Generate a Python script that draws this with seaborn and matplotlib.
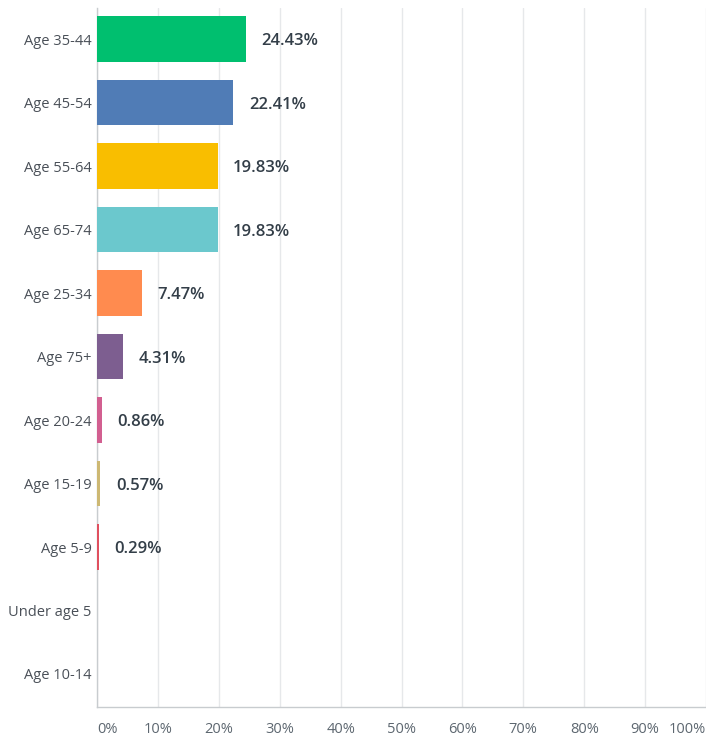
import matplotlib
matplotlib.use("Agg")
import matplotlib.pyplot as plt
import seaborn as sns
import pandas as pd

# Survey answers (percent of respondents)
categories = ["Age 35-44", "Age 45-54", "Age 55-64", "Age 65-74", "Age 25-34",
              "Age 75+", "Age 20-24", "Age 15-19", "Age 5-9", "Under age 5", "Age 10-14"]
values = [24.43, 22.41, 19.83, 19.83, 7.47, 4.31, 0.86, 0.57, 0.29, 0.0, 0.0]
colors = ["#00BF6F", "#507CB6", "#F9BE00", "#6BC8CD", "#FF8B4F", "#7D5E90",
          "#D25F90", "#CDB873", "#E0505F", "#A0A0A0", "#A0A0A0"]
xticks = list(range(0, 101, 10))

sns.set_theme(style="white")
plt.rcParams["font.family"] = ["Open Sans", "DejaVu Sans"]

df = pd.DataFrame({"answer": categories, "pct": values})

fig = plt.figure(figsize=(7.06, 7.40), dpi=100)
ax = fig.add_axes([0.1374, 0.0446, 0.8626, 0.9446])

sns.barplot(data=df, x="pct", y="answer", hue="answer", palette=colors,
            legend=False, width=0.72, ax=ax, saturation=1, zorder=3, linewidth=0)

ax.set_xlim(0, 100)
ax.set_ylim(10.52, -0.49)
ax.set_xticks(xticks)
ax.set_xticklabels([f"{t}%" for t in xticks])
ax.set_xlabel("")
ax.set_ylabel("")
ax.grid(axis="x", color="#E6E8EA", linewidth=1, zorder=0)

for s in ["top", "right"]:
    ax.spines[s].set_visible(False)
for s in ["left", "bottom"]:
    ax.spines[s].set_color("#C8CCCF")
    ax.spines[s].set_linewidth(1)

ax.tick_params(axis="x", length=0, pad=11, labelsize=10.5, labelcolor="#5D6770")
ax.tick_params(axis="y", length=0, pad=4, labelsize=10.5, labelcolor="#4A5058")
tl = ax.get_xticklabels()
tl[0].set_horizontalalignment("left")
tl[-1].set_horizontalalignment("right")

for i, v in enumerate(values):
    if v > 0:
        ax.annotate(f"{v:.2f}%", xy=(v, i), xytext=(11, -1.5), textcoords="offset points",
                    va="center", ha="left", fontsize=12, fontweight="semibold", color="#333E48")

fig.savefig("out.png", dpi=100)
